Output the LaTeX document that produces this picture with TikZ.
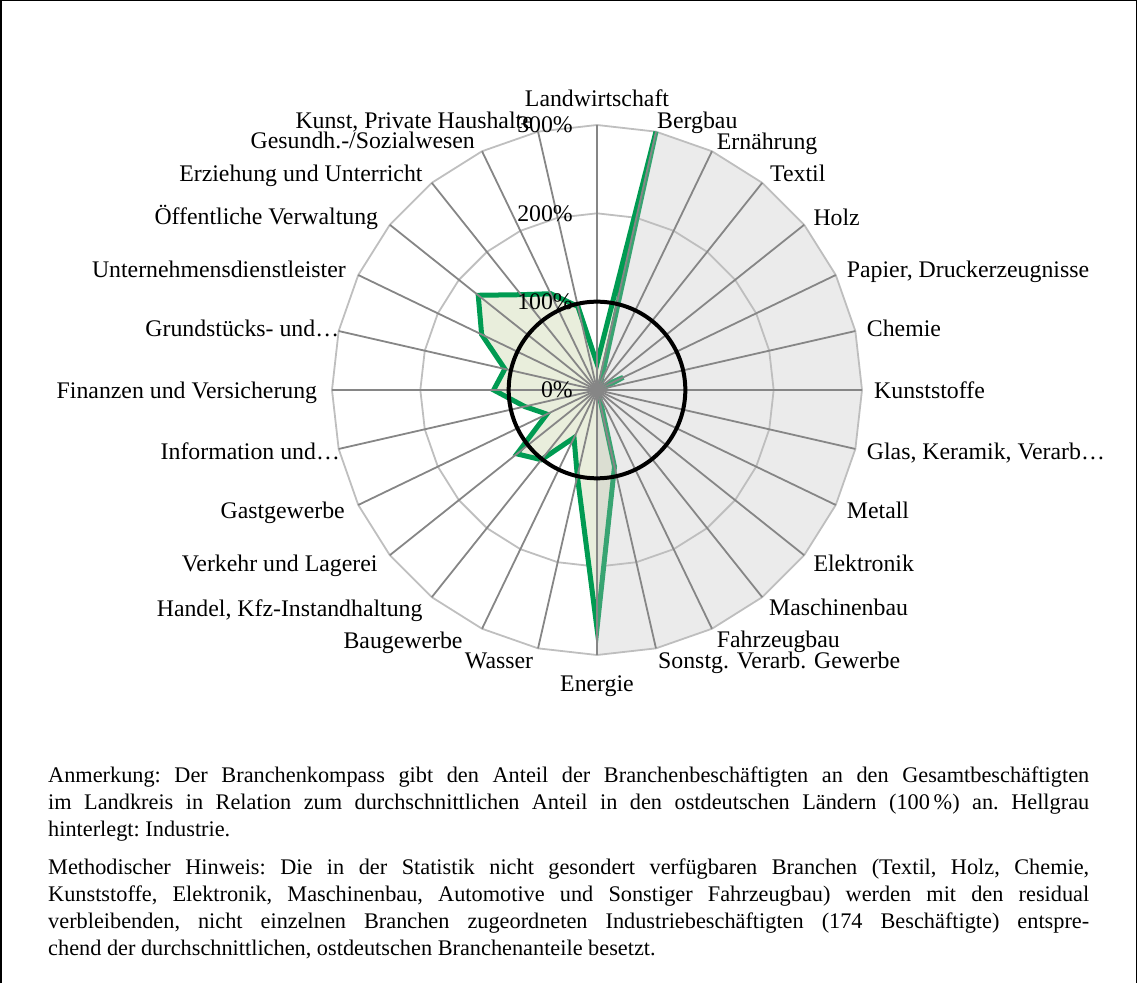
\documentclass[tikz,border=0pt]{standalone}
\usepackage{fontspec}
\setmainfont{Liberation Serif}
\usetikzlibrary{positioning}

\definecolor{kompassgreen}{RGB}{0,155,82}
\definecolor{kompassfill}{RGB}{233,238,220}
\definecolor{spokegray}{RGB}{134,134,134}
\definecolor{ringgray}{RGB}{191,191,191}
\definecolor{industrygray}{RGB}{188,188,188}

\tikzset{
  axisline/.style={spokegray, line width=1.8pt},
  gridring/.style={ringgray, line width=1.8pt},
  catname/.style={inner sep=0pt, font=\fontsize{23.8}{28}\selectfont},
  pctname/.style={inner sep=0pt, anchor=east, font=\fontsize{23.8}{28}\selectfont}
}

\begin{document}
\begin{tikzpicture}[x=1pt,y=1pt]
\useasboundingbox (0,0) rectangle (1137,983);
\draw[line width=1.5pt] (0.75,0) -- (0.75,982.25) -- (1136.25,982.25) -- (1136.25,0);

\coordinate (c) at (597,593);
\begin{scope}[shift={(c)}]
\foreach \r in {88.33,176.67,265}
  \draw[gridring] (90:\r) \foreach \i in {1,...,27}{ -- ({90-\i*360/28}:\r)} -- cycle;
\foreach \v [count=\i from 0] in {30,300,10,5,5,33,5,3,3,3,3,3,5,89,270,100,60,101,116,63,84,117,107,145,172,138,121,97}
  \coordinate (g\i) at ({90-\i*360/28}:{\v*0.8833});
\draw[kompassgreen, fill=kompassfill, line width=5pt] (g0) \foreach \i in {1,...,27}{ -- (g\i)} -- cycle;
\fill[industrygray, opacity=0.3] (0,0) \foreach \i in {1,...,14}{ -- ({90-\i*360/28}:265)} -- cycle;
\foreach \i in {0,...,27}
  \draw[axisline] (0,0) -- ({90-\i*360/28}:265);
\draw[line width=4pt] (0,0) circle (88.33);
\end{scope}

\node[pctname] (p0) at (573,593) {0\%};
\node[pctname] (p1) at (573,681.3) {100\%};
\node[pctname] (p2) at (573,769.7) {200\%};
\node[pctname] (p3) at (573,858) {300\%};

\node[catname, anchor=base] (landw) at (597,876.3) {Landwirtschaft};
\node[catname, anchor=base west] (bergbau) at (657,854.7) {Bergbau};
\node[catname, anchor=base west] (ernaehr) at (716.7,833) {Ernährung};
\node[catname, anchor=base west] (textil) at (770,801.3) {Textil};
\node[catname, anchor=base west] (holz) at (813.3,757) {Holz};
\node[catname, anchor=base west] (papier) at (846.7,705.3) {Papier, Druckerzeugnisse};
\node[catname, anchor=base west] (chemie) at (866.7,646.3) {Chemie};
\node[catname, anchor=base west] (kunstst) at (874,584.7) {Kunststoffe};
\node[catname, anchor=base west] (glas) at (866.7,523) {Glas, Keramik, Verarb…};
\node[catname, anchor=base west] (metall) at (846.7,464.7) {Metall};
\node[catname, anchor=base west] (elektr) at (813.3,411.3) {Elektronik};
\node[catname, anchor=base west] (maschb) at (769,367.3) {Maschinenbau};
\node[catname, anchor=base west] (fahrzb) at (716.7,335.3) {Fahrzeugbau};
\node[catname, anchor=base west] (sonstg) at (658,314.7) {Sonstg. Verarb. Gewerbe};
\node[catname, anchor=base] (energie) at (597,291) {Energie};
\node[catname, anchor=base east] (wasser) at (533.3,314.7) {Wasser};
\node[catname, anchor=base east] (baugew) at (462.7,334.7) {Baugewerbe};
\node[catname, anchor=base east] (handel) at (422.7,366.3) {Handel, Kfz-Instandhaltung};
\node[catname, anchor=base east] (verkehr) at (377.7,411.3) {Verkehr und Lagerei};
\node[catname, anchor=base east] (gastgew) at (345,464.7) {Gastgewerbe};
\node[catname, anchor=base east] (inform) at (340,523) {Information und…};
\node[catname, anchor=base east] (finanz) at (317.3,584.7) {Finanzen und Versicherung};
\node[catname, anchor=base east] (grundst) at (339.3,646.3) {Grundstücks- und…};
\node[catname, anchor=base east] (unterdl) at (346,705.3) {Unternehmensdienstleister};
\node[catname, anchor=base east] (oeffvw) at (378.3,758) {Öffentliche Verwaltung};
\node[catname, anchor=base east] (erzieh) at (422.7,801.3) {Erziehung und Unterricht};
\node[catname, anchor=base east] (gesundh) at (475,834.7) {Gesundh.-/Sozialwesen};
\node[catname, anchor=base east] (kunst) at (533,854.7) {Kunst, Private Haushalte};

\node[anchor=north west, inner sep=0pt, text width=1041pt, align=justify,
      font=\fontsize{22.3}{27}\selectfont] (anmerkung) at (48,216)
  {\parindent=0pt \parskip=11pt \tolerance=9999 \hyphenpenalty=10000 \frenchspacing
   Anmerkung: Der Branchenkompass gibt den Anteil der Branchenbeschäftigten an den Gesamtbeschäftigten\linebreak
   im Landkreis in Relation zum durchschnittlichen Anteil in den ostdeutschen Ländern (100\,\%) an. Hellgrau\linebreak
   hinterlegt: Industrie.\par
   Methodischer Hinweis: Die in der Statistik nicht gesondert verfügbaren Branchen (Textil, Holz, Chemie,\linebreak
   Kunststoffe, Elektronik, Maschinenbau, Automotive und Sonstiger Fahrzeugbau) werden mit den residual\linebreak
   verbleibenden, nicht einzelnen Branchen zugeordneten Industriebeschäftigten (174 Beschäftigte) entspre-\linebreak
   chend der durchschnittlichen, ostdeutschen Branchenanteile besetzt.\par};
\end{tikzpicture}
\end{document}
